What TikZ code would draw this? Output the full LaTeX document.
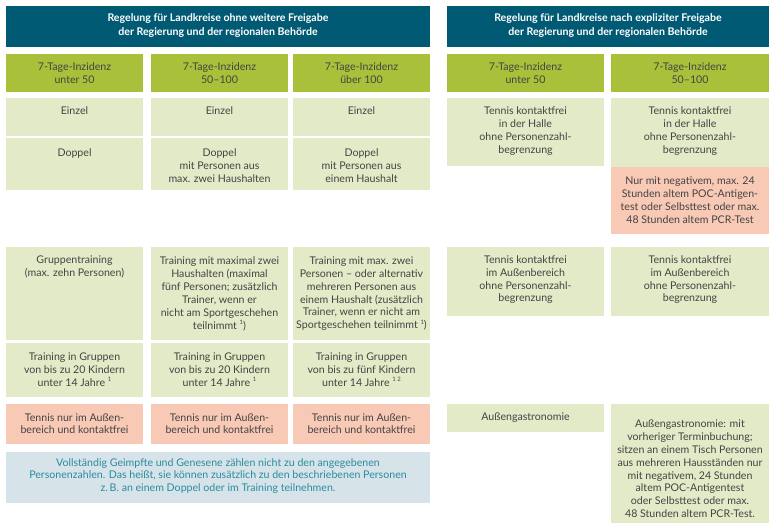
\documentclass[tikz,border=0pt]{standalone}
\usepackage{fontspec}
\setmainfont{Lato}
\definecolor{hdr}{HTML}{005A74}
\definecolor{olive}{HTML}{A8C03A}
\definecolor{lgreen}{HTML}{E3EAC7}
\definecolor{salmon}{HTML}{F8C9B5}
\definecolor{lblue}{HTML}{D6E4EA}
\definecolor{btext}{HTML}{2B8AA0}
\definecolor{gtext}{HTML}{444444}
\newcommand{\mkcell}[7]{%
  \node[cellbox, fill=#6, minimum width={(#4-#2)*1pt}, minimum height={(#5-#3)*1pt}] (#1) at (#2,#3) {};}
\newcommand{\fnsup}[1]{\raisebox{0.45em}{\fontsize{6}{6}\selectfont #1}}
\begin{document}
\begin{tikzpicture}[x=1pt,y=-1pt,
  cellbox/.style={anchor=north west, inner sep=0pt, outer sep=0pt, draw=none},
  txt/.style={align=center, inner sep=0pt, text=gtext, font=\fontsize{10.6}{12.9}\selectfont},
  htxt/.style={align=center, inner sep=0pt, text=white, font=\fontsize{10.6}{14}\selectfont\bfseries}]
\useasboundingbox (0,0) rectangle (775,531);
% headers
\mkcell{hL}{6}{6}{430}{47}{hdr}{}
\mkcell{hR}{447}{6}{769}{47}{hdr}{}
\node[htxt] (hLt) at (218,26) {Regelung für Landkreise ohne weitere Freigabe\\der Regierung und der regionalen Behörde};
\node[htxt] (hRt) at (608,26) {Regelung für Landkreise nach expliziter Freigabe\\der Regierung und der regionalen Behörde};
% incidence row
\mkcell{i1}{6}{54}{143}{92}{olive}{}
\mkcell{i2}{151}{54}{288}{92}{olive}{}
\mkcell{i3}{293}{54}{430}{92}{olive}{}
\mkcell{i4}{447}{54}{604}{92}{olive}{}
\mkcell{i5}{611}{54}{769}{92}{olive}{}
\node[txt] (i1t) at (74.5,73.5) {7-Tage-Inzidenz\\unter 50};
\node[txt] (i2t) at (219.5,73.5) {7-Tage-Inzidenz\\50–100};
\node[txt] (i3t) at (361.5,73.5) {7-Tage-Inzidenz\\über 100};
\node[txt] (i4t) at (525.5,73.5) {7-Tage-Inzidenz\\unter 50};
\node[txt] (i5t) at (690,73.5) {7-Tage-Inzidenz\\50–100};
% Einzel
\mkcell{e1}{6}{98}{143}{136}{lgreen}{}
\mkcell{e2}{151}{98}{288}{136}{lgreen}{}
\mkcell{e3}{293}{98}{430}{136}{lgreen}{}
\node[txt] (e1t) at (74.5,111) {Einzel};
\node[txt] (e2t) at (219.5,111) {Einzel};
\node[txt] (e3t) at (361.5,111) {Einzel};
% Doppel
\mkcell{d1}{6}{138}{143}{190}{lgreen}{}
\mkcell{d2}{151}{138}{288}{190}{lgreen}{}
\mkcell{d3}{293}{138}{430}{190}{lgreen}{}
\node[txt] (d1t) at (74.5,153) {Doppel};
\node[txt] (d2t) at (219.5,165.7) {Doppel\\mit Personen aus\\max. zwei Haushalten};
\node[txt] (d3t) at (361.5,165.7) {Doppel\\mit Personen aus\\einem Haushalt};
% Tennis Halle (right)
\mkcell{t4}{447}{98}{604}{166}{lgreen}{}
\mkcell{t5}{611}{98}{769}{167}{lgreen}{}
\mkcell{n5}{611}{167}{769}{234}{salmon}{}
\node[txt] (t4t) at (525.5,131.3) {Tennis kontaktfrei\\in der Halle\\ohne Personenzahl-\\begrenzung};
\node[txt] (t5t) at (690,131.3) {Tennis kontaktfrei\\in der Halle\\ohne Personenzahl-\\begrenzung};
\node[txt] (n5t) at (690,200) {Nur mit negativem, max. 24\\Stunden altem POC-Antigen-\\test oder Selbsttest oder max.\\48 Stunden altem PCR-Test};
% Gruppentraining row
\mkcell{g1}{6}{247}{143}{340}{lgreen}{}
\mkcell{g2}{151}{247}{288}{340}{lgreen}{}
\mkcell{g3}{293}{247}{430}{340}{lgreen}{}
\node[txt] (g1t) at (74.5,267.3) {Gruppentraining\\(max. zehn Personen)};
\node[txt] (g2t) at (219.5,293.7) {Training mit maximal zwei\\Haushalten (maximal\\fünf Personen; zusätzlich\\Trainer, wenn er\\nicht am Sportgeschehen\\teilnimmt \fnsup{1})};
\node[txt] (g3t) at (361.5,293.7) {Training mit max. zwei\\Personen – oder alternativ\\mehreren Personen aus\\einem Haushalt (zusätzlich\\Trainer, wenn er nicht am\\Sportgeschehen teilnimmt \fnsup{1})};
% Tennis Aussen (right)
\mkcell{a4}{447}{247}{604}{316}{lgreen}{}
\mkcell{a5}{611}{247}{769}{316}{lgreen}{}
\node[txt] (a4t) at (525.5,279.7) {Tennis kontaktfrei\\im Außenbereich\\ohne Personenzahl-\\begrenzung};
\node[txt] (a5t) at (690,279.7) {Tennis kontaktfrei\\im Außenbereich\\ohne Personenzahl-\\begrenzung};
% Kinder row
\mkcell{k1}{6}{343}{143}{397}{lgreen}{}
\mkcell{k2}{151}{343}{288}{397}{lgreen}{}
\mkcell{k3}{293}{343}{430}{397}{lgreen}{}
\node[txt] (k1t) at (74.5,369.3) {Training in Gruppen\\von bis zu 20 Kindern\\unter 14 Jahre \fnsup{1}};
\node[txt] (k2t) at (219.5,369.3) {Training in Gruppen\\von bis zu 20 Kindern\\unter 14 Jahre \fnsup{1}};
\node[txt] (k3t) at (361.5,369.3) {Training in Gruppen\\von bis zu fünf Kindern\\unter 14 Jahre \fnsup{1 2}};
% Tennis nur im Aussenbereich
\mkcell{r1}{6}{404}{143}{444}{salmon}{}
\mkcell{r2}{151}{404}{288}{444}{salmon}{}
\mkcell{r3}{293}{404}{430}{444}{salmon}{}
\node[txt] (r1t) at (74.5,423.7) {Tennis nur im Außen-\\bereich und kontaktfrei};
\node[txt] (r2t) at (219.5,423.7) {Tennis nur im Außen-\\bereich und kontaktfrei};
\node[txt] (r3t) at (361.5,423.7) {Tennis nur im Außen-\\bereich und kontaktfrei};
% Aussengastronomie (right)
\mkcell{o4}{447}{404}{604}{432}{lgreen}{}
\mkcell{o5}{611}{404}{769}{523}{lgreen}{}
\node[txt] (o4t) at (525.5,417.5) {Außengastronomie};
\node[txt] (o5t) at (690,468.8) {Außengastronomie: mit\\vorheriger Terminbuchung;\\sitzen an einem Tisch Personen\\aus mehreren Hausständen nur\\mit negativem, 24 Stunden\\altem POC-Antigentest\\oder Selbsttest oder max.\\48 Stunden altem PCR-Test.};
% note
\mkcell{b1}{6}{452}{430}{503}{lblue}{}
\node[txt, text=btext] (b1t) at (218,476) {Vollständig Geimpfte und Genesene zählen nicht zu den angegebenen\\Personenzahlen. Das heißt, sie können zusätzlich zu den beschriebenen Personen\\z.\,B. an einem Doppel oder im Training teilnehmen.};
\end{tikzpicture}
\end{document}
